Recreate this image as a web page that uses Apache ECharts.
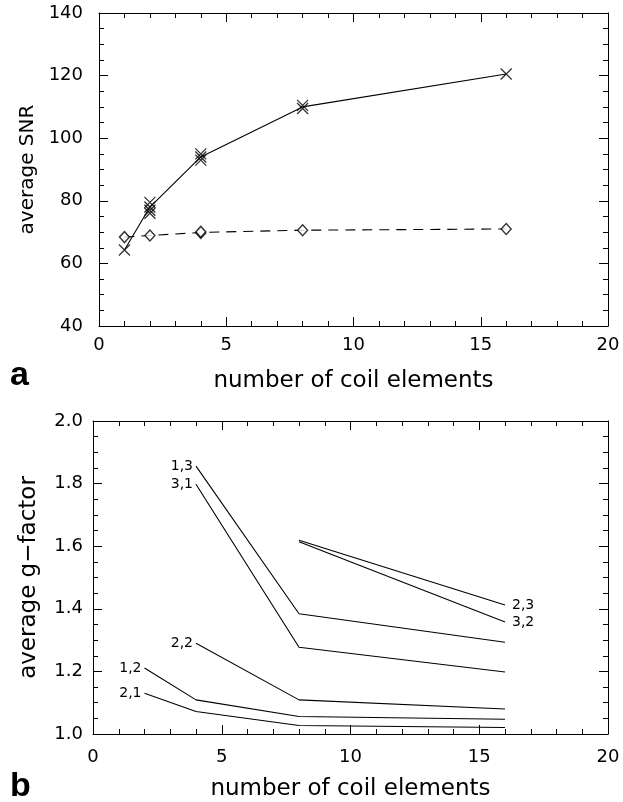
<!DOCTYPE html>
<html>
<head>
<meta charset="utf-8">
<script src="https://cdn.jsdelivr.net/npm/echarts@6/dist/echarts.min.js"></script>
<style>
html,body{margin:0;padding:0;background:#fff;}
#chart{width:623px;height:802px;}
</style>
</head>
<body>
<div id="chart"></div>
<script>
// ---- Panel a: average SNR ----
const snrCrossX = [1, 2, 2, 2, 2, 4, 4, 4, 8, 8, 16];
const snrCrossY = [64.3, 79.5, 78, 77, 76, 95, 94, 93, 110.5, 109.5, 120.5];
const snrLineX = [1, 2, 4, 8, 16];
const snrLineY = [64.3, 78, 94, 110, 120.5];
const snrDiamondX = [1, 2, 4, 4, 8, 16];
const snrDiamondY = [68.4, 68.9, 69.7, 70.1, 70.6, 71.0];
const snrDashX = [1, 2, 4, 8, 16];
const snrDashY = [68.4, 68.9, 69.9, 70.6, 71.0];

// ---- Panel b: average g-factor ----
const gNames = ['1,3', '3,1', '2,2', '1,2', '2,1', '2,3', '3,2'];
const gX = [
  [4, 8, 16],
  [4, 8, 16],
  [4, 8, 16],
  [2, 4, 8, 16],
  [2, 4, 8, 16],
  [8, 16],
  [8, 16]
];
const gY = [
  [1.856, 1.384, 1.293],
  [1.798, 1.277, 1.198],
  [1.290, 1.109, 1.080],
  [1.211, 1.109, 1.056, 1.047],
  [1.130, 1.072, 1.027, 1.021],
  [1.619, 1.412],
  [1.614, 1.358]
];
const gLabelAtEnd = [false, false, false, false, false, true, true];

const xTitle = 'number of coil elements';
const yTitleA = 'average SNR';
const yTitleB = 'average g\u2212factor';

const FONT = 'DejaVu Sans';
const zip = (xs, ys) => xs.map((x, i) => [x, ys[i]]);

function baseAxisStyle(showLabel) {
  return {
    axisLine: { show: true, onZero: false, lineStyle: { color: '#000', width: 1 } },
    axisTick: { show: true, inside: true, length: 9, lineStyle: { color: '#000', width: 1 } },
    minorTick: { show: true, length: 5, lineStyle: { color: '#000', width: 1 } },
    splitLine: { show: false },
    axisLabel: { show: showLabel, color: '#000', fontFamily: FONT, fontSize: 18 }
  };
}

function xAxisDef(grid, pos, showLabel, extra) {
  const a = baseAxisStyle(showLabel);
  a.minorTick.splitNumber = 5;
  return Object.assign({
    type: 'value', gridIndex: grid, position: pos, min: 0, max: 20, interval: 5
  }, a, extra || {});
}
function yAxisDef(grid, pos, showLabel, min, max, interval, extra) {
  const a = baseAxisStyle(showLabel);
  a.minorTick.splitNumber = 4;
  return Object.assign({
    type: 'value', gridIndex: grid, position: pos, min: min, max: max, interval: interval
  }, a, extra || {});
}

const titleStyle = { color: '#000', fontFamily: FONT, fontSize: 23 };

const xAxes = [
  xAxisDef(0, 'bottom', true, { name: xTitle, nameLocation: 'middle', nameGap: 44, nameTextStyle: titleStyle,
    axisLabel: { show: true, color: '#000', fontFamily: FONT, fontSize: 18, margin: 10 } }),
  xAxisDef(0, 'top', false),
  xAxisDef(1, 'bottom', true, { name: xTitle, nameLocation: 'middle', nameGap: 44, nameTextStyle: titleStyle,
    axisLabel: { show: true, color: '#000', fontFamily: FONT, fontSize: 18, margin: 14 } }),
  xAxisDef(1, 'top', false)
];
const yAxes = [
  yAxisDef(0, 'left', true, 40, 140, 20, { name: yTitleA, nameLocation: 'middle', nameGap: 52, nameTextStyle: { color: '#000', fontFamily: FONT, fontSize: 20 },
    axisLabel: { show: true, color: '#000', fontFamily: FONT, fontSize: 18, margin: 16 } }),
  yAxisDef(0, 'right', false, 40, 140, 20),
  yAxisDef(1, 'left', true, 1.0, 2.0, 0.2, { name: yTitleB, nameLocation: 'middle', nameGap: 52, nameTextStyle: { color: '#000', fontFamily: FONT, fontSize: 23 },
    axisLabel: { show: true, color: '#000', fontFamily: FONT, fontSize: 18, margin: 10,
      formatter: v => v.toFixed(1) } }),
  yAxisDef(1, 'right', false, 1.0, 2.0, 0.2)
];

const series = [
  {
    type: 'line', xAxisIndex: 0, yAxisIndex: 0, data: zip(snrLineX, snrLineY),
    symbol: 'none', lineStyle: { color: '#000', width: 1.1 }, silent: true, z: 2
  },
  {
    type: 'scatter', xAxisIndex: 0, yAxisIndex: 0, data: zip(snrCrossX, snrCrossY),
    symbol: 'path://M0,0L10,10M10,0L0,10', symbolSize: 11,
    itemStyle: { color: 'none', borderColor: '#000', borderWidth: 1.3 }, silent: true, z: 3
  },
  {
    type: 'line', xAxisIndex: 0, yAxisIndex: 0, data: zip(snrDashX, snrDashY),
    symbol: 'none', lineStyle: { color: '#000', width: 1.1, type: [10, 7] }, silent: true, z: 2
  },
  {
    type: 'scatter', xAxisIndex: 0, yAxisIndex: 0, data: zip(snrDiamondX, snrDiamondY),
    symbol: 'diamond', symbolSize: [10, 11],
    itemStyle: { color: '#fff', borderColor: '#000', borderWidth: 1.4 }, silent: true, z: 3
  }
];

gNames.forEach((name, i) => {
  const pts = zip(gX[i], gY[i]);
  const li = gLabelAtEnd[i] ? pts.length - 1 : 0;
  const data = pts.map((p, j) => {
    if (j !== li) return { value: p };
    return {
      value: p,
      label: {
        show: true, formatter: name, position: gLabelAtEnd[i] ? 'right' : 'left',
        distance: gLabelAtEnd[i] ? 7 : 3,
        color: '#000', fontFamily: FONT, fontSize: 14
      }
    };
  });
  series.push({
    type: 'line', name: name, xAxisIndex: 2, yAxisIndex: 2, data: data,
    symbol: 'circle', symbolSize: 0, showSymbol: true,
    itemStyle: { color: '#000' },
    lineStyle: { color: '#000', width: 1.1 }, silent: true
  });
});

const chart = echarts.init(document.getElementById('chart'), null, { renderer: 'canvas' });
chart.setOption({
  animation: false,
  backgroundColor: '#fff',
  grid: [
    { left: 99, top: 13, width: 509, height: 313 },
    { left: 93, top: 421, width: 515, height: 317 }
  ],
  xAxis: xAxes,
  yAxis: yAxes,
  series: series,
  graphic: [
    { type: 'text', left: 10, top: 359, style: { text: 'a', fontFamily: 'Liberation Sans', fontWeight: 'bold', fontSize: 34, fill: '#000' } },
    { type: 'text', left: 10, top: 770, style: { text: 'b', fontFamily: 'Liberation Sans', fontWeight: 'bold', fontSize: 34, fill: '#000' } }
  ]
});
</script>
</body>
</html>
